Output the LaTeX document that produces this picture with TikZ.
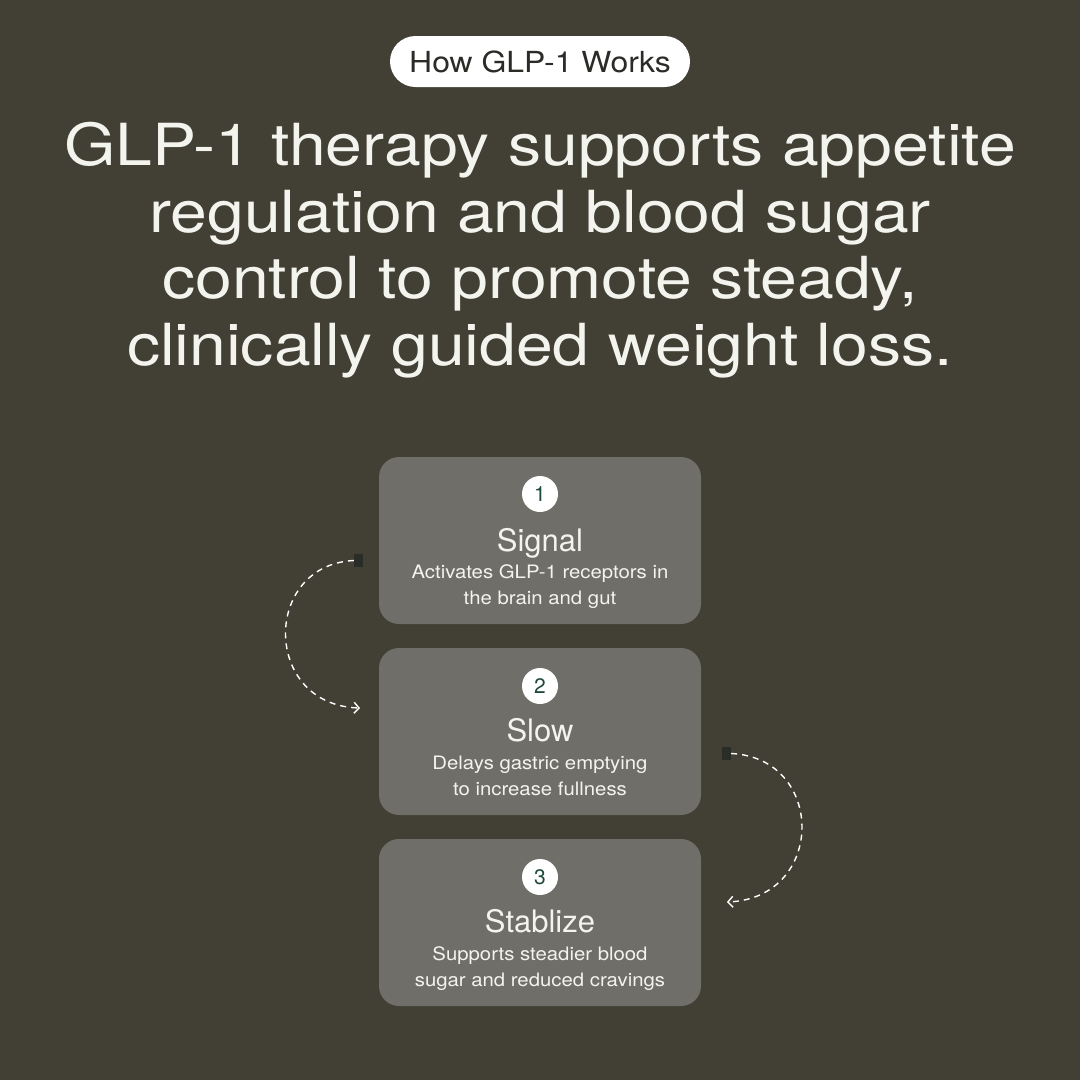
\documentclass[tikz,border=0pt]{standalone}
\usepackage{fontspec}
\setmainfont[FakeStretch=1.1]{TeX Gyre Heros}
\newfontfamily\headfont[FakeStretch=1.14]{TeX Gyre Heros}
\newfontfamily\plainfont{TeX Gyre Heros}
\usetikzlibrary{arrows.meta}
\definecolor{bgc}{HTML}{423F34}
\definecolor{boxc}{HTML}{6F6E68}
\definecolor{numc}{HTML}{1F4A3A}
\definecolor{sqc}{HTML}{2A2D27}
\definecolor{txtc}{HTML}{F4F4EF}
\definecolor{pillt}{HTML}{2B2B27}
\tikzset{
  stepbox/.style={fill=boxc, rounded corners=20pt, minimum width=322pt, minimum height=167pt, inner sep=0pt},
  numdot/.style={circle, fill=white, minimum size=36pt, inner sep=0pt, text=numc, font=\plainfont\fontsize{21}{21}\selectfont},
  steptitle/.style={text=txtc, inner sep=0pt, font=\plainfont\fontsize{31}{31}\selectfont},
  stepdesc/.style={text=txtc, inner sep=0pt, align=center, font=\fontsize{18.5}{26}\selectfont},
  headline/.style={text=txtc, inner sep=0pt, anchor=base, font=\headfont\fontsize{58}{58}\selectfont},
  sq/.style={fill=sqc, minimum width=9pt, minimum height=13pt, inner sep=0pt},
  flow/.style={draw=white, line width=1.4pt, dash pattern=on 6pt off 5pt, -{Straight Barb[length=5pt,width=11pt,line width=1.4pt]}},
}
\begin{document}
\begin{tikzpicture}[x=1pt,y=-1pt]
\fill[bgc] (0,0) rectangle (1080,1080);
\useasboundingbox (0,0) rectangle (1080,1080);
% pill
\node[fill=white, rounded corners=25.5pt, minimum width=300pt, minimum height=51pt, inner sep=0pt, text=pillt, font=\fontsize{29}{29}\selectfont] (pill) at (540,61.5) {How GLP-1 Works};
% title
\node[headline] (l1) at (540,165) {GLP-1 therapy supports appetite};
\node[headline] (l2) at (540,232) {regulation and blood sugar};
\node[headline] (l3) at (540,298) {control to promote steady,};
\node[headline] (l4) at (540,365) {clinically guided weight loss.};
% boxes
\node[stepbox] (b1) at (540,540.5) {};
\node[stepbox] (b2) at (540,731.5) {};
\node[stepbox] (b3) at (540,922.5) {};
\node[numdot] (n1) at (540,494) {1};
\node[numdot] (n2) at (540,686) {2};
\node[numdot] (n3) at (540,877) {3};
\node[steptitle, anchor=base] (t1) at (540,551) {Signal};
\node[steptitle, anchor=base] (t2) at (540,741) {Slow};
\node[steptitle, anchor=base] (t3) at (540,932) {Stablize};
\node[stepdesc, anchor=base] (d1) at (540,604) {Activates GLP-1 receptors in\\the brain and gut};
\node[stepdesc, anchor=base] (d2) at (540,795) {Delays gastric emptying\\to increase fullness};
\node[stepdesc, anchor=base] (d3) at (540,986) {Supports steadier blood\\sugar and reduced cravings};
% connectors
\node[sq] (s1) at (358.5,560.5) {};
\node[sq] (s2) at (726.5,753.5) {};
\coordinate (e1) at (360,708);
\coordinate (e2) at (727,902);
\draw[flow] (s1.west) .. controls (262,565) and (262,705) .. (e1);
\draw[flow] (s2.east) .. controls (826,758) and (826,898) .. (e2);
\end{tikzpicture}
\end{document}
